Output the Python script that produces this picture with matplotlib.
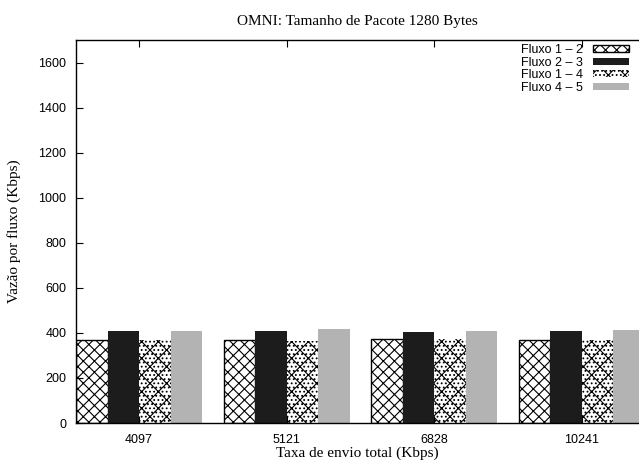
import numpy as np
import matplotlib.pyplot as plt

rates = ["4097", "5121", "6828", "10241"]
flux_labels = ["Fluxo 1 – 2", "Fluxo 2 – 3", "Fluxo 1 – 4", "Fluxo 4 – 5"]
flux12 = [368, 368, 371, 368]
flux23 = [408, 408, 405, 408]
flux14 = [368, 366, 371, 368]
flux45 = [408, 416, 408, 411]

plt.rcParams["hatch.linewidth"] = 0.8

W, H = 639, 463
fig = plt.figure(figsize=(W / 100, H / 100), dpi=100)
# axes box in pixels: left 76, right beyond the edge (cut off), top 40, bottom 423
ax = fig.add_axes([76 / W, (H - 423) / H, (645 - 76) / W, (423 - 40) / H])

x = np.arange(len(rates))
w = 0.2135
styles = [
    dict(facecolor="white", edgecolor="black", hatch="xxx", linewidth=1.0),
    dict(facecolor="#1c1c1c", edgecolor="#1c1c1c", linewidth=0),
    dict(facecolor="white", edgecolor="black", hatch="xx....", linewidth=0),
    dict(facecolor="#b3b3b3", edgecolor="#b3b3b3", linewidth=0),
]
series = [flux12, flux23, flux14, flux45]
for i, (vals, st, lab) in enumerate(zip(series, styles, flux_labels)):
    ax.bar(x + (i - 1.5) * w, vals, width=w, label=lab, **st)

ax.set_xlim(-0.427, 3.428)
ax.set_ylim(0, 1700)
ax.set_yticks(range(0, 1601, 200))
ax.set_xticks(x)
ax.set_xticklabels(rates)
for lab in ax.get_xticklabels() + ax.get_yticklabels():
    lab.set_family("Liberation Sans")
    lab.set_fontsize(9)
ax.tick_params(direction="in", top=True, right=False, length=5, width=0.8)
ax.tick_params(axis="x", pad=8)
ax.tick_params(axis="y", pad=7)
for s in ax.spines.values():
    s.set_linewidth(1.0)

ax.set_title("OMNI: Tamanho de Pacote 1280 Bytes", family="Liberation Serif",
             fontsize=11, pad=11, x=(357 - 76) / (645 - 76))
fig.text(357 / W, 1 - 453 / H, "Taxa de envio total (Kbps)", family="Liberation Serif",
         fontsize=11, ha="center", va="center")
fig.text(14 / W, 1 - 231 / H, "Vazão por fluxo (Kbps)", family="Liberation Serif",
         fontsize=11, ha="center", va="center", rotation=90)

leg = fig.legend(loc="upper right", bbox_to_anchor=(629 / W, 1 - 44 / H),
                 frameon=False, markerfirst=False, borderpad=0, borderaxespad=0,
                 handlelength=2.9, handleheight=0.5, handletextpad=0.8,
                 labelspacing=0.05, prop={"family": "Liberation Sans", "size": 9})

fig.savefig("out.png", dpi=100)
